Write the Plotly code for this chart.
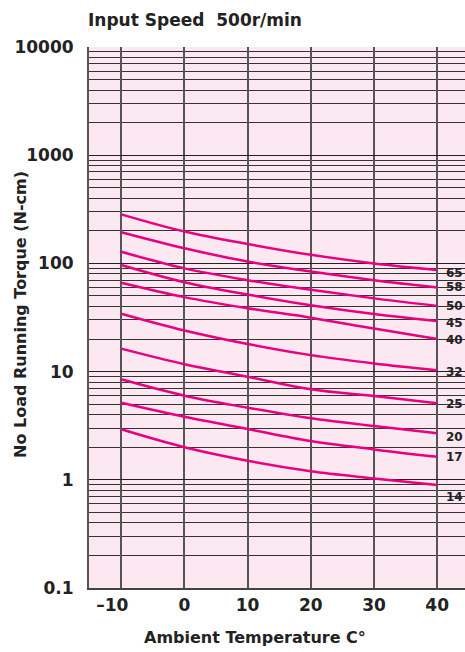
import math
import plotly.graph_objects as go

# ---- data ----
temps = [-10, 0, 10, 20, 30, 40]
series_names = ["65", "58", "50", "45", "40", "32", "25", "20", "17", "14"]
s65 = [284, 197, 151, 120, 100, 87]
s58 = [194, 138, 104, 84, 70, 60]
s50 = [128, 90, 70, 57, 47.5, 40.5]
s45 = [96.7, 67, 51.5, 41, 34, 29.3]
s40 = [66.3, 48.8, 38.5, 31.5, 25, 20]
s32 = [34.3, 24, 18, 14.2, 11.9, 10.3]
s25 = [16.3, 11.7, 8.97, 6.86, 5.95, 5.09]
s20 = [8.49, 5.99, 4.64, 3.70, 3.14, 2.69]
s17 = [5.16, 3.83, 2.95, 2.28, 1.91, 1.63]
s14 = [2.93, 2.0, 1.5, 1.2, 1.03, 0.895]
series_values = [s65, s58, s50, s45, s40, s32, s25, s20, s17, s14]
label_y = [81, 60, 40.5, 28, 19.6, 9.9, 5.0, 2.5, 1.62, 0.69]

x_tickvals = [-10, 0, 10, 20, 30, 40]
x_ticktext = ["–10\u00a0\u00a0\u00a0", "0", "10", "20", "30", "40"]
y_tickvals = [0.1, 1, 10, 100, 1000, 10000]
y_ticktext = ["0.1", "1", "10", "100", "1000", "10000"]

FONT = "DejaVu Sans"
CURVE = "#e8007f"
TXT = "#222222"

fig = go.Figure()
for name, vals in zip(series_names, series_values):
    fig.add_trace(go.Scatter(
        x=temps, y=vals, mode="lines", name=name,
        line=dict(color=CURVE, width=2.5, shape="spline", smoothing=1.0),
        showlegend=False, hoverinfo="skip"))

minor_vals = [m * 10 ** k for k in range(-1, 4) for m in range(2, 10)]

annotations = []
for name, ly in zip(series_names, label_y):
    annotations.append(dict(
        x=40, y=math.log10(ly), xref="x", yref="y",
        text=name, showarrow=False, xanchor="left", yanchor="middle",
        xshift=7, font=dict(family=FONT, size=12, color=TXT, weight="bold")))

annotations += [
    dict(text="Input Speed  500r/min", x=-0.008, y=1.05, xref="paper", yref="paper",
         xanchor="left", yanchor="middle", showarrow=False,
         font=dict(family=FONT, size=17, color=TXT, weight="bold")),
    dict(text="Ambient Temperature C°", x=0.4415, y=-0.0924, xref="paper", yref="paper",
         xanchor="center", yanchor="middle", showarrow=False,
         font=dict(family=FONT, size=16, color=TXT, weight="bold")),
    dict(text="No Load Running Torque (N-cm)", x=-0.1835, y=0.5046, xref="paper",
         yref="paper", xanchor="center", yanchor="middle", showarrow=False,
         textangle=-90, font=dict(family=FONT, size=16, color=TXT, weight="bold")),
]

fig.update_layout(
    width=465, height=652,
    margin=dict(l=89, r=0, t=47, b=64, autoexpand=False),
    paper_bgcolor="white", plot_bgcolor="#fce8f0",
    annotations=annotations,
    font=dict(family=FONT, color=TXT),
)
fig.update_xaxes(
    range=[-15.1, 44.4], tickvals=x_tickvals, ticktext=x_ticktext,
    showgrid=True, gridcolor="#555", gridwidth=1.5, zeroline=False,
    showline=True, linecolor="#444", linewidth=1.5, automargin=False,
    tickfont=dict(family=FONT, size=17, color=TXT, weight="bold"), ticklabelstandoff=1,
)
fig.update_yaxes(
    type="log", range=[-1, 4], tickvals=y_tickvals, ticktext=y_ticktext,
    showgrid=True, gridcolor="#222", gridwidth=1, automargin=False,
    minor=dict(tickvals=minor_vals, showgrid=True, gridcolor="#333", gridwidth=1),
    showline=True, linecolor="#555", linewidth=2,
    tickfont=dict(family=FONT, size=17, color=TXT, weight="bold"), ticklabelstandoff=10,
)

fig.write_html("out.html", config={"displayModeBar": False},
               post_script="document.body.style.margin='0';document.body.style.overflow='hidden';")
